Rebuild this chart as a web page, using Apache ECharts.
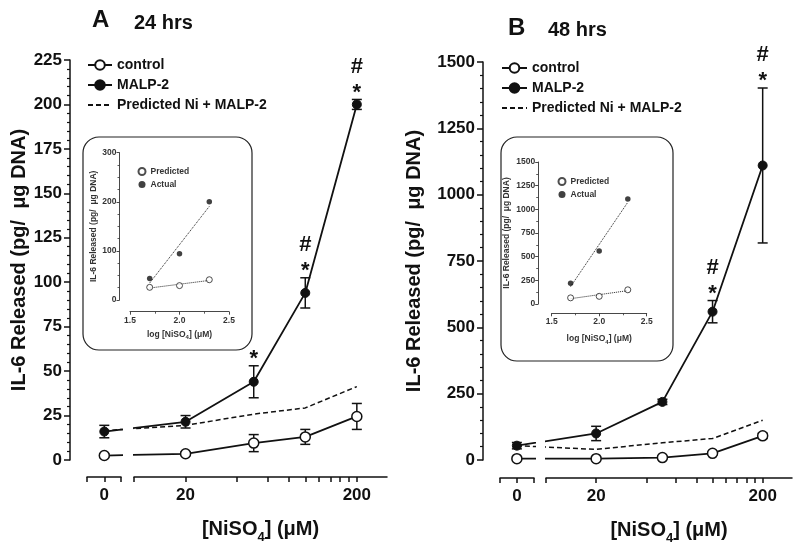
<!DOCTYPE html>
<html><head><meta charset="utf-8">
<script src="https://cdn.jsdelivr.net/npm/echarts@6/dist/echarts.min.js"></script>
<style>html,body{margin:0;padding:0;background:#fff}#c{width:800px;height:546px}</style>
</head><body><div id="c"></div>
<script>
// ---------- data ----------
const conc = [0, 20, 50, 100, 200];            // [NiSO4] (µM)
const xTickValues = [10, 20, 40, 60, 80, 100, 120, 140, 160, 180, 200];
const xLabelValues = [20, 200];
const ZERO_AT = 6.7;                            // where the 0 dose sits on the broken log axis

// Panel A : 24 hrs
const controlA    = [2.5, 3.5, 9.5, 13, 24.5];
const controlErrA = [1, 1, 4.8, 4.2, 7.3];
const malpA       = [16, 21.5, 44, 94, 200];
const malpErrA    = [3.5, 3.5, 9, 8.5, 2.8];
const predictedA  = [16.5, 19.5, 25.8, 29.3, 41.3];
const marksA      = ['', '', '*', '#*', '#*'];

// Panel B : 48 hrs
const controlB    = [5, 5, 9, 25, 91];
const controlErrB = [3, 3, 4, 6, 10];
const malpB       = [54, 100, 219, 559, 1110];
const malpErrB    = [12, 27, 10, 42, 292];
const predictedB  = [54, 40, 65, 81, 150];
const marksB      = ['', '', '', '#*', '#*'];

// ---------- layout / style ----------
const FF = "'Liberation Sans', Arial, Helvetica, sans-serif";
const INK = '#111';
const panels = [
  { title: 'A', sub: '24 hrs', control: controlA, controlErr: controlErrA, malp: malpA, malpErr: malpErrA,
    predicted: predictedA, marks: marksA, yMax: 225, yStep: 25,
    g0: [87, 60, 34, 400], gl: [134, 60, 253, 400], x0Max: 8.4, yOff: 17, xOff: 17, yNameGap: 39,
    legend: [87, 58, 24], titlePos: [92, 8, 134, 13],
    inset: { grid: [130, 152.7, 99, 147.3], yMax: 300, yStep: 100, yMinor: 4, yOff: 10.5, xOff: 11.7,
             yNameGap: 19, xNameGap: 16, legend: [137.5, 167], box: [83, 137, 169, 213] } },
  { title: 'B', sub: '48 hrs', control: controlB, controlErr: controlErrB, malp: malpB, malpErr: malpErrB,
    predicted: predictedB, marks: marksB, yMax: 1500, yStep: 250,
    g0: [500, 62, 34, 398], gl: [546, 62, 246, 398], x0Max: 8.5, yOff: 17, xOff: 18, yNameGap: 59,
    legend: [501, 61, 25], titlePos: [508, 16, 548, 20.5],
    inset: { grid: [551.7, 162, 95, 142], yMax: 1500, yStep: 250, yMinor: 2, yOff: 13.5, xOff: 9.3,
             yNameGap: 27, xNameGap: 19, legend: [557.5, 177], box: [501, 137, 172, 224] } }
];

const xPos = c => (c === 0 ? ZERO_AT : c);
const pairs = vals => conc.map((c, i) => [xPos(c), vals[i]]);
function fit(xs, ys) {
  const n = xs.length, mx = xs.reduce((a, b) => a + b) / n, my = ys.reduce((a, b) => a + b) / n;
  let sxy = 0, sxx = 0;
  xs.forEach((x, i) => { sxy += (x - mx) * (ys[i] - my); sxx += (x - mx) * (x - mx); });
  const b = sxy / sxx, a = my - b * mx;
  const x0 = Math.min(...xs), x1 = Math.max(...xs);
  return [[x0, a + b * x0], [x1, a + b * x1]];
}

const grid = [], xAxis = [], yAxis = [], series = [], legend = [], gfx = [];
const boldTxt = (size) => ({ fontFamily: FF, fontWeight: 'bold', fontSize: size, color: INK });
const plain = v => String(v);

panels.forEach((p, k) => {
  const G0 = 3 * k, GL = 3 * k + 1, GI = 3 * k + 2;
  const toGrid = a => ({ left: a[0], top: a[1], width: a[2], height: a[3], containLabel: false, outerBoundsMode: 'none' });
  grid[G0] = toGrid(p.g0); grid[GL] = toGrid(p.gl); grid[GI] = toGrid(p.inset.grid);

  const axLine = { show: true, onZero: false, lineStyle: { color: INK, width: 1.5 } };
  const inLine = { show: true, onZero: false, lineStyle: { color: '#333', width: 0.9 } };
  // ---- x axes ----
  xAxis[G0] = { gridIndex: G0, type: 'log', logBase: 10, min: 5.3, max: p.x0Max, offset: p.xOff,
    axisLine: axLine, splitLine: { show: false },
    axisTick: { show: true, length: 5, lineStyle: { color: INK, width: 1.5 }, customValues: [5.31, ZERO_AT, p.x0Max - 0.01] },
    axisLabel: { ...boldTxt(17), margin: 10, customValues: [ZERO_AT], formatter: () => '0' } };
  xAxis[GL] = { gridIndex: GL, type: 'log', logBase: 10, min: 10, max: 300, offset: p.xOff,
    axisLine: axLine, splitLine: { show: false },
    axisTick: { show: true, length: 5, lineStyle: { color: INK, width: 1.5 }, customValues: xTickValues },
    axisLabel: { ...boldTxt(17), margin: 10, customValues: xLabelValues, formatter: plain },
    name: '{n|[NiSO}{s|4}{n|] (\u03bcM)}', nameLocation: 'middle', nameGap: 37,
    nameTextStyle: { rich: { n: { ...boldTxt(20), lineHeight: 30 }, s: { ...boldTxt(13), lineHeight: 13, verticalAlign: 'bottom' } } } };
  xAxis[GI] = { gridIndex: GI, type: 'value', min: 1.5, max: 2.5, interval: 0.5, offset: p.inset.xOff,
    axisLine: inLine, splitLine: { show: false },
    axisTick: { show: true, length: 3, lineStyle: { color: '#333', width: 0.9 } },
    minorTick: { show: true, splitNumber: 2, length: 2, lineStyle: { color: '#333', width: 0.8 } },
    axisLabel: { ...boldTxt(8.5), color: '#333', margin: 4, formatter: v => v.toFixed(1) },
    name: '{n|log [NiSO}{s|4}{n|] (\u03bcM)}', nameLocation: 'middle', nameGap: p.inset.xNameGap,
    nameTextStyle: { rich: { n: { ...boldTxt(8.5), color: '#333', lineHeight: 13 }, s: { ...boldTxt(6), color: '#333', lineHeight: 6, verticalAlign: 'bottom' } } } };

  // ---- y axes ----
  yAxis[G0] = { gridIndex: G0, type: 'value', min: 0, max: p.yMax, interval: p.yStep, offset: p.yOff,
    axisLine: axLine, splitLine: { show: false },
    axisTick: { show: true, length: 6, lineStyle: { color: INK, width: 1.5 } },
    minorTick: { show: true, splitNumber: 5, length: 3, lineStyle: { color: INK, width: 1.2 } },
    axisLabel: { ...boldTxt(17), margin: 8, formatter: plain },
    name: 'IL-6 Released (pg/  \u03bcg DNA)', nameLocation: 'middle', nameGap: p.yNameGap,
    nameTextStyle: boldTxt(20) };
  yAxis[GL] = { gridIndex: GL, type: 'value', min: 0, max: p.yMax, show: false };
  yAxis[GI] = { gridIndex: GI, type: 'value', min: 0, max: p.inset.yMax, interval: p.inset.yStep, offset: p.inset.yOff,
    axisLine: inLine, splitLine: { show: false },
    axisTick: { show: true, length: 3, lineStyle: { color: '#333', width: 0.9 } },
    minorTick: { show: true, splitNumber: p.inset.yMinor, length: 2, lineStyle: { color: '#333', width: 0.8 } },
    axisLabel: { ...boldTxt(8.5), color: '#333', margin: 3, formatter: plain },
    name: 'IL-6 Released (pg/  \u03bcg DNA)', nameLocation: 'middle', nameGap: p.inset.yNameGap,
    nameTextStyle: { ...boldTxt(8.5), color: '#333' } };

  // ---- main series in both segments ----
  [G0, GL].forEach(g => {
    const keep = g === G0 ? (c => c === 0) : (c => c > 0);
    series.push({ name: 'Predicted Ni + MALP-2', type: 'line', xAxisIndex: g, yAxisIndex: g, data: pairs(p.predicted),
      symbol: 'none', clip: true, z: 3, itemStyle: { color: INK, opacity: 0 },
      lineStyle: { color: INK, width: 1.5, type: [5, 3] } });
    const rows = [];
    conc.forEach((c, i) => {
      if (!keep(c)) return;
      rows.push([xPos(c), p.control[i] - p.controlErr[i], p.control[i] + p.controlErr[i]]);
      rows.push([xPos(c), p.malp[i] - p.malpErr[i], p.malp[i] + p.malpErr[i]]);
    });
    series.push({ type: 'custom', xAxisIndex: g, yAxisIndex: g, data: rows, z: 2, silent: true,
      encode: { x: 0, y: [1, 2] },
      renderItem: (params, api) => {
        const lo = api.coord([api.value(0), api.value(1)]), hi = api.coord([api.value(0), api.value(2)]);
        const w = 5, st = { stroke: INK, lineWidth: 1.5 };
        return { type: 'group', children: [
          { type: 'line', shape: { x1: lo[0], y1: lo[1], x2: hi[0], y2: hi[1] }, style: st },
          { type: 'line', shape: { x1: lo[0] - w, y1: lo[1], x2: lo[0] + w, y2: lo[1] }, style: st },
          { type: 'line', shape: { x1: hi[0] - w, y1: hi[1], x2: hi[0] + w, y2: hi[1] }, style: st } ] };
      } });
    series.push({ name: 'control', type: 'line', xAxisIndex: g, yAxisIndex: g, data: pairs(p.control),
      symbol: 'circle', symbolSize: 10, clip: true, z: 4,
      itemStyle: { color: '#fff', borderColor: INK, borderWidth: 1.5 }, lineStyle: { color: INK, width: 1.8 } });
    series.push({ name: 'MALP-2', type: 'line', xAxisIndex: g, yAxisIndex: g, data: pairs(p.malp),
      symbol: 'circle', symbolSize: 9, clip: true, z: 4,
      itemStyle: { color: INK, borderColor: INK, borderWidth: 1 }, lineStyle: { color: INK, width: 1.8 } });
  });

  // ---- significance marks ----
  const markRows = [];
  conc.forEach((c, i) => { if (p.marks[i]) markRows.push([xPos(c), p.malp[i] + p.malpErr[i], i]); });
  series.push({ type: 'custom', xAxisIndex: GL, yAxisIndex: GL, data: markRows, z: 5, silent: true,
    encode: { x: 0, y: 1 },
    renderItem: (params, api) => {
      const pt = api.coord([api.value(0), api.value(1)]);
      const chars = p.marks[api.value(2)].split('').reverse();
      return { type: 'group', children: chars.map((ch, j) => ({ type: 'text',
        style: { text: ch, x: pt[0], y: pt[1] - 12 - 21 * j + (ch === '*' ? 5 : 0), textAlign: 'center',
                 textVerticalAlign: 'middle', font: 'bold 22px ' + FF, fill: INK } })) };
    } });

  // ---- inset ----
  const ix = conc.slice(2).map(c => Math.log10(c));
  const ip = p.predicted.slice(2), ia = p.malp.slice(2);
  series.push({ type: 'line', xAxisIndex: GI, yAxisIndex: GI, data: fit(ix, ip), symbol: 'none', silent: true,
    lineStyle: { color: '#222', width: 1, type: 'dotted' }, z: 3 });
  series.push({ type: 'line', xAxisIndex: GI, yAxisIndex: GI, data: fit(ix, ia), symbol: 'none', silent: true,
    lineStyle: { color: '#222', width: 1, type: 'dotted' }, z: 3 });
  series.push({ name: 'Predicted', type: 'scatter', xAxisIndex: GI, yAxisIndex: GI, data: ix.map((x, i) => [x, ip[i]]),
    symbol: 'circle', symbolSize: 6, z: 4, itemStyle: { color: '#fff', borderColor: '#222', borderWidth: 1 } });
  series.push({ name: 'Actual', type: 'scatter', xAxisIndex: GI, yAxisIndex: GI, data: ix.map((x, i) => [x, ia[i]]),
    symbol: 'circle', symbolSize: 5.5, z: 4, itemStyle: { color: '#111' } });

  // ---- legends ----
  legend.push({ orient: 'vertical', left: p.legend[0], top: p.legend[1], padding: 0, itemWidth: p.legend[2], itemHeight: 12,
    itemGap: 6, selectedMode: false, data: ['control', 'MALP-2', 'Predicted Ni + MALP-2'],
    textStyle: { ...boldTxt(14), lineHeight: 14 } });
  legend.push({ orient: 'vertical', left: p.inset.legend[0], top: p.inset.legend[1], padding: 0, itemWidth: 7, itemHeight: 7,
    itemGap: 4, selectedMode: false, data: ['Predicted', 'Actual'],
    textStyle: { ...boldTxt(8.5), color: '#333', lineHeight: 9 } });

  // ---- graphics ----
  const b = p.inset.box;
  gfx.push({ type: 'rect', z: -10, shape: { x: b[0], y: b[1], width: b[2], height: b[3], r: 16 },
    style: { fill: '#fff', stroke: '#222', lineWidth: 1.2 } });
  gfx.push({ type: 'text', x: p.titlePos[0], y: p.titlePos[1], style: { text: p.title, font: 'bold 24px ' + FF, fill: INK, textVerticalAlign: 'top' } });
  gfx.push({ type: 'text', x: p.titlePos[2], y: p.titlePos[3], style: { text: p.sub, font: 'bold 20px ' + FF, fill: INK, textVerticalAlign: 'top' } });
});

const chart = echarts.init(document.getElementById('c'), null, { renderer: 'canvas' });
chart.setOption({
  animation: false,
  backgroundColor: '#fff',
  textStyle: { fontFamily: FF },
  grid, xAxis, yAxis, series, legend,
  graphic: { elements: gfx }
});
</script>
</body></html>
